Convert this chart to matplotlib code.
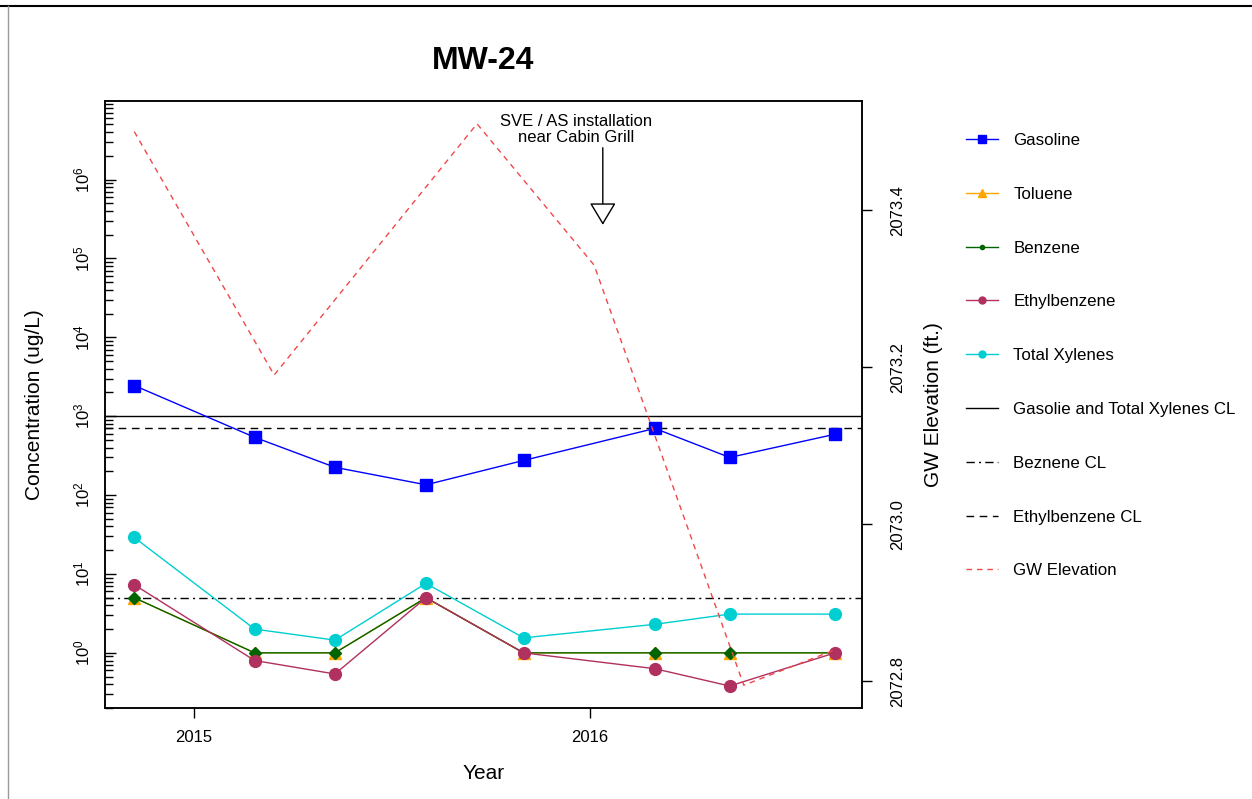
import matplotlib
matplotlib.use("Agg")
import matplotlib.pyplot as plt
import matplotlib.dates as mdates
import matplotlib.ticker as mticker
import numpy as np
from matplotlib.lines import Line2D

plt.rcParams['font.family'] = ['Liberation Sans', 'DejaVu Sans']
plt.rcParams['mathtext.fontset'] = 'custom'
plt.rcParams['mathtext.rm'] = 'Liberation Sans'

# sample dates and concentrations (ug/L)
sample_dates = np.array(['2014-11-07', '2015-02-26', '2015-05-11', '2015-08-03',
                         '2015-11-01', '2016-03-01', '2016-05-09', '2016-08-14'],
                        dtype='datetime64[D]')
gasoline = [2450, 540, 225, 135, 275, 700, 300, 590]
toluene = [5, 1, 1, 5, 1, 1, 1, 1]
benzene = [5, 1, 1, 5, 1, 1, 1, 1]
ethylbenzene = [7.3, 0.8, 0.54, 5.0, 1.0, 0.63, 0.38, 1.0]
xylenes = [29, 2.0, 1.45, 7.6, 1.55, 2.3, 3.1, 3.1]

# groundwater elevation (ft.)
gw_dates = np.array(['2014-11-07', '2015-03-16', '2015-09-19', '2016-01-05',
                     '2016-05-22', '2016-08-14'], dtype='datetime64[D]')
gw_elev = [2073.50, 2073.19, 2073.51, 2073.33, 2072.795, 2072.84]

# cleanup levels
gas_xyl_cl = 1000
benzene_cl = 5
ethylbenzene_cl = 700

install_date = np.datetime64('2016-01-13')
install_label = "SVE / AS installation\nnear Cabin Grill"

labels = ["Gasoline", "Toluene", "Benzene", "Ethylbenzene", "Total Xylenes",
          "Gasolie and Total Xylenes CL", "Beznene CL", "Ethylbenzene CL", "GW Elevation"]

c_gas = '#0000FF'
c_tol = '#FFA500'
c_ben = '#006400'
c_eth = '#B03060'
c_xyl = '#00CED1'
c_gw = '#F04848'
dashed = (0, (5.5, 4))
dashdot = (0, (6, 3, 1.5, 3))
gw_dash = (0, (4, 3.5))

fig = plt.figure(figsize=(12.52, 7.99), dpi=100)
ax = fig.add_axes([105/1252, 1 - 708/799, 757/1252, 607/799])

ax.plot(sample_dates, gasoline, color=c_gas, lw=1, marker='s', ms=8, zorder=3)
ax.plot(sample_dates, toluene, color=c_tol, lw=1, marker='^', ms=9, zorder=3)
ax.plot(sample_dates, benzene, color=c_ben, lw=1, marker='D', ms=6.5, zorder=3)
ax.plot(sample_dates, ethylbenzene, color=c_eth, lw=1, marker='o', ms=8.5, zorder=3)
ax.plot(sample_dates, xylenes, color=c_xyl, lw=1, marker='o', ms=8.5, zorder=3)

ax.axhline(gas_xyl_cl, color='black', lw=1)
ax.axhline(benzene_cl, color='black', lw=1, ls=dashdot)
ax.axhline(ethylbenzene_cl, color='black', lw=1, ls=dashed)

ax.set_yscale('log')
ax.set_ylim(0.2, 9.9e6)
ax.set_xlim(np.datetime64('2014-10-11'), np.datetime64('2016-09-08'))
ax.xaxis.set_major_locator(mdates.YearLocator())
ax.xaxis.set_major_formatter(mdates.DateFormatter('%Y'))
ax.yaxis.set_major_locator(mticker.FixedLocator([10.0 ** k for k in range(0, 7)]))
ax.yaxis.set_major_formatter(mticker.FuncFormatter(
    lambda v, p: r'$\mathregular{10^{%d}}$' % round(np.log10(v))))
ax.yaxis.set_minor_locator(mticker.LogLocator(base=10, subs=range(2, 10), numticks=20))
ax.yaxis.set_minor_formatter(mticker.NullFormatter())

ax.tick_params(axis='y', which='major', direction='in', length=8, width=1, labelsize=12,
               pad=9, labelrotation=90)
ax.tick_params(axis='y', which='minor', direction='in', length=6, width=1)
ax.tick_params(axis='x', direction='out', length=7, width=1, labelsize=12, pad=9)
for lbl in ax.get_yticklabels():
    lbl.set_va('center')

for s in ax.spines.values():
    s.set_linewidth(1.1)

ax.set_ylabel("Concentration (ug/L)", fontsize=15, va='center')
ax.yaxis.set_label_coords(-0.0925, 0.5)
ax.set_xlabel("Year", fontsize=15, va='center')
ax.xaxis.set_label_coords(0.5, -0.1087)
ax.set_title("MW-24", fontsize=23, fontweight='bold', pad=23)

# GW elevation on the right axis
ax2 = ax.twinx()
ax2.plot(gw_dates, gw_elev, color=c_gw, lw=1, ls=gw_dash)
ax2.set_ylim(2072.766, 2073.539)
ax2.set_yticks([2072.8, 2073.0, 2073.2, 2073.4])
ax2.yaxis.set_major_formatter(mticker.FormatStrFormatter('%.1f'))
ax2.tick_params(axis='y', direction='out', length=7, width=1, labelsize=12, pad=13,
                labelrotation=90)
for lbl in ax2.get_yticklabels():
    lbl.set_va('center')
ax2.set_ylabel("GW Elevation (ft.)", fontsize=15, va='center')
ax2.yaxis.set_label_coords(1.094, 0.5)
for s in ax2.spines.values():
    s.set_linewidth(1.1)

# installation marker
ax.annotate('', xy=(install_date, 0.796), xytext=(install_date, 0.923),
            xycoords=('data', 'axes fraction'), textcoords=('data', 'axes fraction'),
            arrowprops=dict(arrowstyle='-|>,head_length=1.0,head_width=0.6',
                            mutation_scale=14, fc='white', ec='black', lw=1,
                            shrinkA=0, shrinkB=0))
ax.annotate(install_label, xy=(install_date, 0.953), xycoords=('data', 'axes fraction'),
            xytext=(-19, 0), textcoords='offset points', ha='center', va='center',
            fontsize=12, linespacing=1.15)

handles = [
    Line2D([], [], color=c_gas, lw=1, marker='s', ms=5.5),
    Line2D([], [], color=c_tol, lw=1, marker='^', ms=5.5),
    Line2D([], [], color=c_ben, lw=1, marker='o', ms=3),
    Line2D([], [], color=c_eth, lw=1, marker='o', ms=5),
    Line2D([], [], color=c_xyl, lw=1, marker='o', ms=5),
    Line2D([], [], color='black', lw=1),
    Line2D([], [], color='black', lw=1, ls=dashdot),
    Line2D([], [], color='black', lw=1, ls=dashed),
    Line2D([], [], color=c_gw, lw=1, ls=gw_dash),
]
fig.legend(handles, labels, loc='upper left', bbox_to_anchor=(966/1252, 1 - 133/799),
           frameon=False, fontsize=12.2, handlelength=1.9, handletextpad=0.9,
           labelspacing=2.29, borderpad=0, borderaxespad=0)

# page border of the document the chart sits in
fig.add_artist(Line2D([0, 1], [1 - 6/799, 1 - 6/799], transform=fig.transFigure,
                      color='black', lw=1.5))
fig.add_artist(Line2D([7.5/1252, 7.5/1252], [0, 1 - 6/799], transform=fig.transFigure,
                      color='#999999', lw=1))

fig.savefig("out.png", dpi=100)
